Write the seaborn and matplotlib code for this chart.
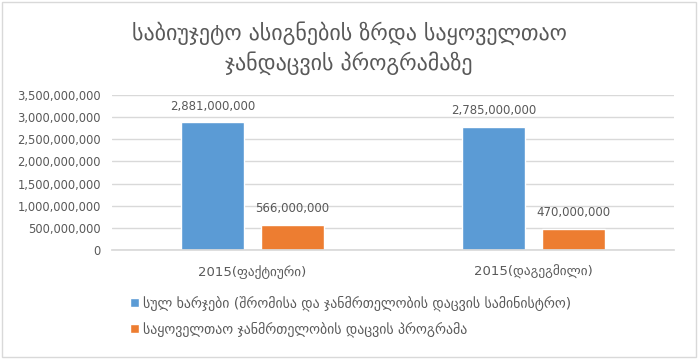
import pandas as pd
import matplotlib.pyplot as plt
import seaborn as sns
from matplotlib.patches import Rectangle
from matplotlib.ticker import FuncFormatter

# Chart values
categories = ["2015(ფაქტიური)", "2015(დაგეგმილი)"]
series_names = [
    "სულ ხარჯები (შრომისა და ჯანმრთელობის დაცვის სამინისტრო)",
    "საყოველთაო ჯანმრთელობის დაცვის პროგრამა",
]
total_spending = [2881000000, 2785000000]
program_spending = [566000000, 470000000]
y_ticks = [0, 500000000, 1000000000, 1500000000, 2000000000,
           2500000000, 3000000000, 3500000000]

colors = ["#5B9BD5", "#ED7D31"]
text_color = "#595959"
grid_color = "#D9D9D9"

df = pd.DataFrame({
    "category": categories * 2,
    "series": [series_names[0]] * 2 + [series_names[1]] * 2,
    "value": total_spending + program_spending,
})

sns.set_theme(style="white")
plt.rcParams["font.family"] = ["DejaVu Sans"]

fig = plt.figure(figsize=(6.98, 3.59), dpi=100)
ax = fig.add_axes([0.1605, 0.3036, 0.805, 0.4318])

sns.barplot(data=df, x="category", y="value", hue="series",
            palette=colors, width=0.57, gap=0.21, saturation=1,
            ax=ax, legend=True)

ax.set_ylim(0, 3500000000)
ax.set_xlim(-0.5, 1.5)
ax.set_yticks(y_ticks)
ax.yaxis.set_major_formatter(FuncFormatter(lambda v, p: f"{int(v):,}"))
ax.grid(axis="y", color=grid_color, linewidth=1)
ax.set_axisbelow(True)
for s in ["top", "right", "left"]:
    ax.spines[s].set_visible(False)
ax.spines["bottom"].set_color(grid_color)
ax.tick_params(axis="y", length=0, colors=text_color, labelsize=8.3, pad=8)
ax.tick_params(axis="x", length=0, colors=text_color, labelsize=9.5, pad=11)
ax.set_xlabel("")
ax.set_ylabel("")

# Value labels above the bars
for container in ax.containers:
    ax.bar_label(container, labels=[f"{int(b.get_height()):,}" for b in container],
                 padding=7, fontsize=8.5, color=text_color)

# Title centred on the whole chart
fig.text(0.5, 1 - 48.5 / 359, "საბიუჯეტო ასიგნების ზრდა საყოველთაო\nჯანდაცვის პროგრამაზე",
         ha="center", va="center", fontsize=15.8, color=text_color, linespacing=1.35)

leg = ax.legend(loc="upper left", bbox_to_anchor=(0.022, -0.255), frameon=False,
                fontsize=10, labelcolor=text_color, handlelength=0.65,
                handleheight=0.65, handletextpad=0.3, labelspacing=0.75,
                borderaxespad=0)

# Outer border of the chart
fig.patches.append(Rectangle((0.003, 0.005), 0.994, 0.99, transform=fig.transFigure,
                             fill=False, edgecolor=grid_color, linewidth=1))

fig.savefig("out.png", dpi=100)
